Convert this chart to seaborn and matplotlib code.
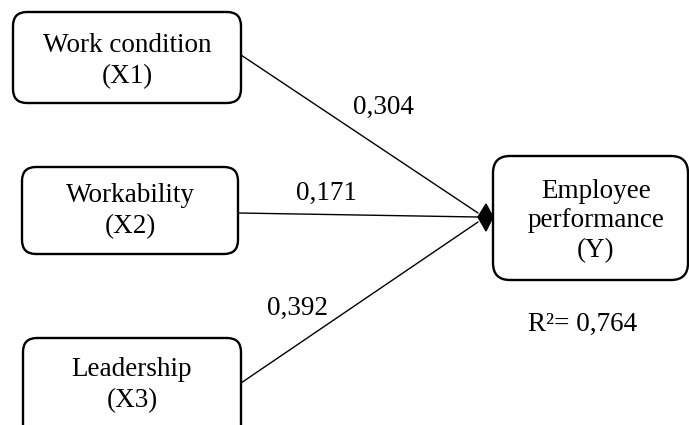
import matplotlib
matplotlib.use("Agg")
import matplotlib.pyplot as plt
from matplotlib.patches import FancyBboxPatch, Polygon
import seaborn as sns

# path model: three predictors -> employee performance
predictors = ["Work condition\n(X1)", "Workability\n(X2)", "Leadership\n(X3)"]
outcome = "Employee\nperformance\n(Y)"
coefs = ["0,304", "0,171", "0,392"]
r2_label = "R\u00b2= 0,764"

sns.set_theme(style="white")
plt.rcParams["font.family"] = ["Liberation Serif", "DejaVu Serif"]
plt.rcParams["text.color"] = "black"

fig = plt.figure(figsize=(6.89, 4.25), dpi=100)
ax = fig.add_axes([0, 0, 1, 1])
ax.set_xlim(0, 689)
ax.set_ylim(425, 0)
ax.axis("off")

# boxes in pixel space: (x0, y0, x1, y1)
pred_boxes = [(13, 12, 241, 103), (22, 167, 238, 254), (23, 338, 241, 440)]
pred_text_y = [61, 211, 385]
out_box = (493, 156, 688, 280)
starts = [(241, 55), (238, 213), (241, 383)]
ends = [(478, 213), (478, 217), (478, 222)]
coef_pos = [(383, 107), (326, 193), (298, 308)]
FS = 19.5


def draw_box(b, r):
    x0, y0, x1, y1 = b
    p = FancyBboxPatch((x0, y0), x1 - x0, y1 - y0,
                       boxstyle="round,pad=0,rounding_size=%d" % r,
                       linewidth=1.7, edgecolor="black", facecolor="white", zorder=2)
    ax.add_patch(p)


for b, t, ty in zip(pred_boxes, predictors, pred_text_y):
    draw_box(b, 14)
    ax.text((b[0] + b[2]) / 2, ty, t, ha="center", va="center",
            fontsize=FS, linespacing=1.35, zorder=3)

draw_box(out_box, 17)
ax.text(596, 221, outcome, ha="center", va="center", fontsize=FS, linespacing=1.22, zorder=3)

for s, e, c, cp in zip(starts, ends, coefs, coef_pos):
    ax.plot([s[0], e[0]], [s[1], e[1]], color="black", linewidth=1.0, zorder=1)
    ax.text(cp[0], cp[1], c, ha="center", va="center", fontsize=FS)

# merged arrow heads
ax.add_patch(Polygon([(478, 217), (486, 204), (493, 217), (486, 231)],
                     closed=True, facecolor="black", edgecolor="black", zorder=4))

ax.text(583, 324, r2_label, ha="center", va="center", fontsize=FS)

fig.savefig("out.png", dpi=100)
